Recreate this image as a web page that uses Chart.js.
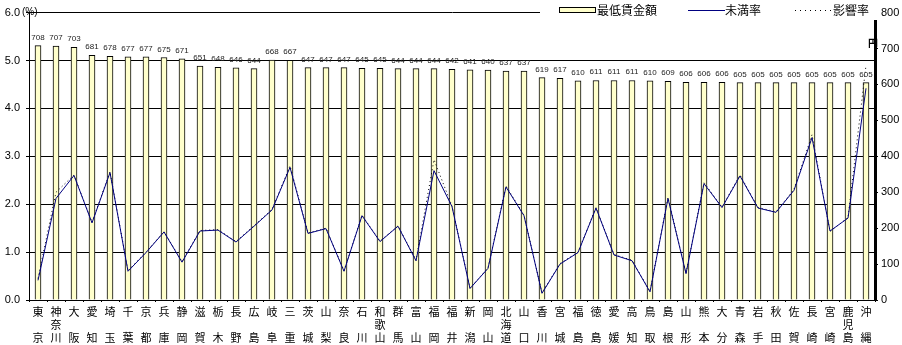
<!DOCTYPE html>
<html>
<head>
<meta charset="utf-8">
<script src="https://cdn.jsdelivr.net/npm/chart.js@4.4.0/dist/chart.umd.min.js"></script>
<style>
html, body { margin: 0; padding: 0; background: #fff; }
</style>
</head>
<body>
<canvas id="wageChart" width="902" height="345"></canvas>
<script>
var prefectures = ['東京', '神奈川', '大阪', '愛知', '埼玉', '千葉', '京都', '兵庫', '静岡', '滋賀',
    '栃木', '長野', '広島', '岐阜', '三重', '茨城', '山梨', '奈良', '石川', '和歌山',
    '群馬', '富山', '福岡', '福井', '新潟', '岡山', '北海道', '山口', '香川', '宮城',
    '福島', '徳島', '愛媛', '高知', '鳥取', '島根', '山形', '熊本', '大分', '青森',
    '岩手', '秋田', '佐賀', '長崎', '宮崎', '鹿児島', '沖縄'];

// 最低賃金額 (円)
var minWage = [708, 707, 703, 681, 678, 677, 677, 675, 671, 651,
    648, 646, 644, 668, 667, 647, 647, 647, 645, 645,
    644, 644, 644, 642, 641, 640, 637, 637, 619, 617,
    610, 611, 611, 611, 610, 609, 606, 606, 606, 605,
    605, 605, 605, 605, 605, 605, 605];

// 未満率 (%)
var belowRate = [0.41, 2.12, 2.60, 1.61, 2.66, 0.60, 0.99, 1.42, 0.79, 1.44,
    1.46, 1.21, 1.54, 1.88, 2.77, 1.39, 1.49, 0.60, 1.76, 1.22,
    1.54, 0.82, 2.70, 1.95, 0.24, 0.66, 2.36, 1.76, 0.14, 0.75,
    0.99, 1.92, 0.94, 0.82, 0.17, 2.12, 0.55, 2.43, 1.93, 2.59,
    1.92, 1.83, 2.29, 3.39, 1.44, 1.71, 4.42];

// 影響率 (%)
var impactRate = [0.45, 2.25, 2.61, 1.62, 2.68, 0.61, 1.00, 1.43, 0.80, 1.45,
    1.47, 1.22, 1.55, 1.89, 2.80, 1.40, 1.50, 0.61, 1.77, 1.23,
    1.55, 0.83, 2.93, 1.96, 0.25, 0.67, 2.38, 1.77, 0.15, 0.76,
    1.00, 1.93, 0.95, 0.83, 0.18, 2.14, 0.56, 2.45, 1.94, 2.61,
    1.93, 1.84, 2.31, 3.45, 1.43, 1.72, 4.90];

var rateMax = 6;
var wageMax = 800;

// 縦書きラベル: 2文字は上下に、3文字は1文字ずつ
function verticalLabel(name) {
    var chars = name.split('');
    if (chars.length == 2) return [chars[0], '', chars[1]];
    return chars;
}

var jpFont = '"Noto Sans CJK JP", "Noto Sans", sans-serif';
var numFont = '"Liberation Sans", "DejaVu Sans", sans-serif';

var overlay = {
    id: 'overlay',
    afterDatasetsDraw: function (chart) {
        // 棒の上の金額
        var ctx = chart.ctx;
        var meta = chart.getDatasetMeta(0);
        ctx.save();
        ctx.fillStyle = '#222';
        ctx.font = '8px ' + numFont;
        ctx.textAlign = 'center';
        ctx.textBaseline = 'alphabetic';
        meta.data.forEach(function (bar, i) {
            ctx.fillText(String(minWage[i]), bar.x, bar.y - 6);
        });
        ctx.restore();
    },
    afterDraw: function (chart) {
        var ctx = chart.ctx;
        var area = chart.chartArea;
        ctx.save();

        // 凡例
        ctx.fillStyle = '#fff';
        ctx.fillRect(540, 0, area.right - 540 + 3, 20);

        ctx.fillStyle = '#ffffcc';
        ctx.fillRect(559.5, 7.5, 36, 5);
        ctx.strokeStyle = '#000';
        ctx.lineWidth = 1;
        ctx.strokeRect(559.5, 7.5, 36, 5);

        ctx.fillStyle = '#000';
        ctx.font = '12px ' + jpFont;
        ctx.textBaseline = 'middle';
        ctx.textAlign = 'left';
        ctx.fillText('最低賃金額', 597, 10);

        ctx.strokeStyle = '#000080';
        ctx.beginPath();
        ctx.moveTo(688, 10.5);
        ctx.lineTo(725, 10.5);
        ctx.stroke();
        ctx.fillText('未満率', 725, 10);

        ctx.strokeStyle = '#000';
        ctx.setLineDash([1, 4]);
        ctx.beginPath();
        ctx.moveTo(795, 10.5);
        ctx.lineTo(833, 10.5);
        ctx.stroke();
        ctx.setLineDash([]);
        ctx.fillText('影響率', 833, 10);

        // 軸の単位
        ctx.font = '10px ' + numFont;
        ctx.fillText('(%)', 22, area.top);
        ctx.font = 'bold 10px ' + jpFont;
        ctx.textAlign = 'center';
        ctx.fillText('円', area.right - 2, 43);

        ctx.restore();
    }
};

var ctx = document.getElementById('wageChart');

new Chart(ctx, {
    data: {
        labels: prefectures.map(verticalLabel),
        datasets: [{
            type: 'bar',
            label: '最低賃金額',
            data: minWage,
            yAxisID: 'y1',
            backgroundColor: '#ffffcc',
            borderColor: '#000',
            borderWidth: 1,
            barThickness: 6,
            order: 3
        }, {
            type: 'line',
            label: '影響率',
            data: impactRate,
            yAxisID: 'y',
            borderColor: '#000',
            borderWidth: 1,
            borderDash: [1, 3],
            pointRadius: 0,
            tension: 0,
            fill: false,
            order: 2
        }, {
            type: 'line',
            label: '未満率',
            data: belowRate,
            yAxisID: 'y',
            borderColor: '#000080',
            borderWidth: 1,
            pointRadius: 0,
            tension: 0,
            fill: false,
            order: 1
        }]
    },
    options: {
        responsive: false,
        animation: false,
        devicePixelRatio: 1,
        layout: {
            padding: { top: 8, left: 0, right: 0, bottom: 0 }
        },
        plugins: {
            legend: { display: false },
            tooltip: { enabled: false }
        },
        scales: {
            x: {
                offset: true,
                grid: { display: true, drawOnChartArea: false, offset: true, tickLength: 2, color: '#000' },
                border: { display: true, color: '#000', width: 1 },
                ticks: {
                    autoSkip: false,
                    maxRotation: 0,
                    minRotation: 0,
                    padding: 3,
                    color: '#000',
                    font: { family: jpFont, size: 11, lineHeight: 13 / 11 }
                },
                afterFit: function (scale) { scale.height = 45; }
            },
            y: {
                position: 'left',
                min: 0,
                max: rateMax,
                grid: { color: '#000', lineWidth: 1, tickLength: 3 },
                border: { display: true, color: '#000', width: 1 },
                ticks: {
                    stepSize: 1,
                    padding: 6,
                    color: '#000',
                    font: { family: numFont, size: 11 },
                    callback: function (v) { return v.toFixed(1); }
                },
                afterFit: function (scale) { scale.width = 29; }
            },
            y1: {
                position: 'right',
                min: 0,
                max: wageMax,
                grid: { drawOnChartArea: false, color: '#000', tickLength: 3 },
                border: { display: true, color: '#000', width: 3 },
                ticks: {
                    stepSize: 100,
                    padding: 3,
                    color: '#000',
                    font: { family: numFont, size: 11 }
                },
                afterFit: function (scale) { scale.width = 27; }
            }
        }
    },
    plugins: [overlay]
});
</script>
</body>
</html>
